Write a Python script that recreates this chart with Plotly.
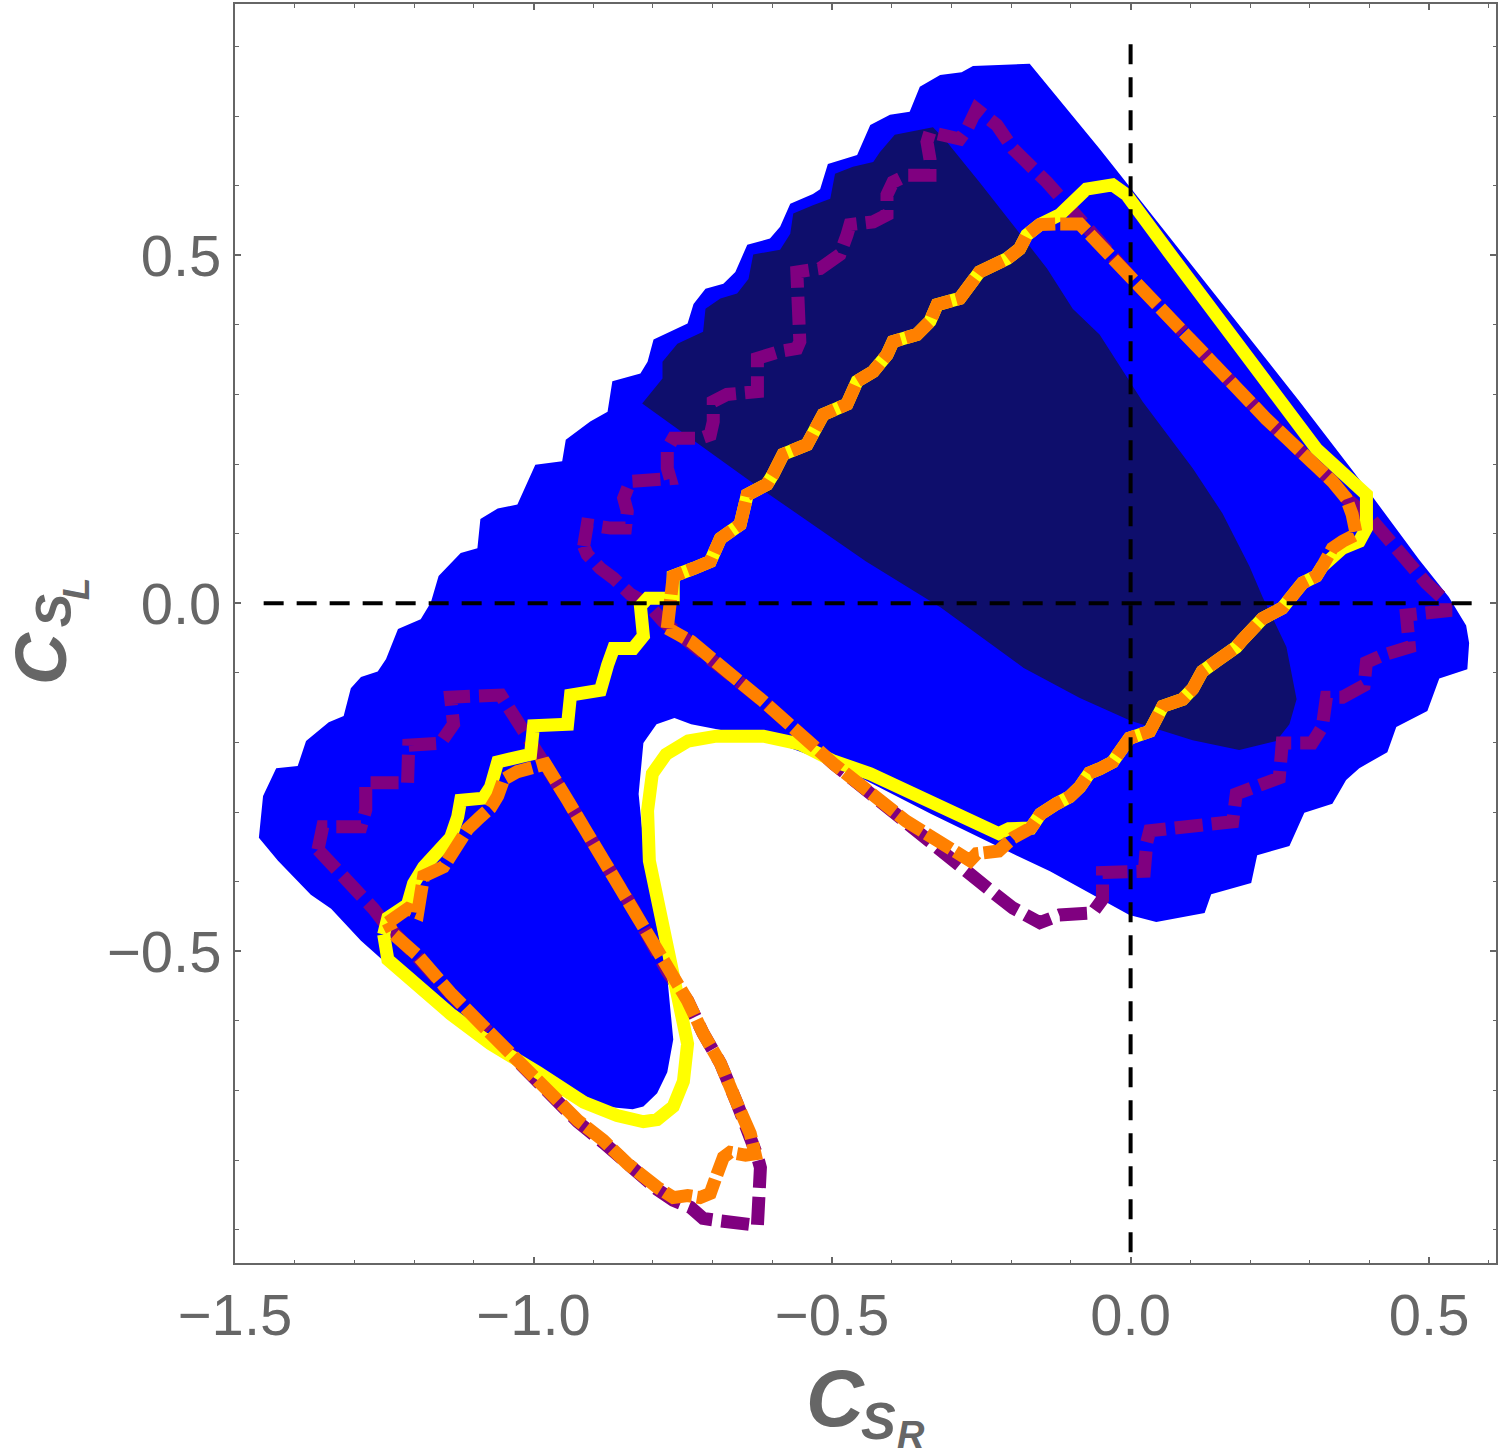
import plotly.graph_objects as go

# ---------------- data (C_SR, C_SL) ----------------
BLUE_X = [-0.169, -0.052, 0.283, 0.400, 0.483, 0.533, 0.562, 0.567, 0.564, 0.517, 0.497, 0.445, 0.430,
          0.383, 0.361, 0.338, 0.291, 0.266, 0.212, 0.202, 0.135, 0.124, 0.043, -0.002, -0.135, -0.197,
          -0.334, -0.497, -0.615, -0.736, -0.764, -0.794, -0.816, -0.824, -0.816, -0.799, -0.776, -0.766,
          -0.776, -0.793, -0.816, -0.834, -0.883, -0.921, -0.993, -1.038, -1.084, -1.127, -1.161, -1.194,
          -1.234, -1.289, -1.339, -1.373, -1.428, -1.460, -1.453, -1.431, -1.395, -1.381, -1.343, -1.318,
          -1.306, -1.289, -1.261, -1.247, -1.227, -1.189, -1.172, -1.159, -1.122, -1.094, -1.089, -1.060,
          -1.027, -1.017, -0.997, -0.952, -0.946, -0.905, -0.876, -0.868, -0.821, -0.809, -0.799, -0.742,
          -0.732, -0.712, -0.682, -0.662, -0.642, -0.604, -0.587, -0.570, -0.532, -0.520, -0.507, -0.458,
          -0.436, -0.403, -0.370, -0.353, -0.319, -0.283, -0.264]
BLUE_Y = [0.775, 0.653, 0.290, 0.159, 0.063, 0.009, -0.032, -0.057, -0.095, -0.108, -0.155, -0.178, -0.214,
          -0.237, -0.254, -0.288, -0.301, -0.349, -0.362, -0.402, -0.418, -0.445, -0.458, -0.448, -0.385, -0.360,
          -0.303, -0.231, -0.194, -0.174, -0.165, -0.174, -0.201, -0.274, -0.343, -0.439, -0.537, -0.627,
          -0.674, -0.704, -0.723, -0.727, -0.723, -0.704, -0.669, -0.641, -0.614, -0.587, -0.567, -0.548,
          -0.527, -0.485, -0.439, -0.419, -0.370, -0.337, -0.277, -0.237, -0.234, -0.198, -0.171, -0.162,
          -0.122, -0.106, -0.098, -0.080, -0.037, -0.023, 0.001, 0.039, 0.072, 0.079, 0.121, 0.136,
          0.142, 0.161, 0.199, 0.204, 0.235, 0.261, 0.275, 0.319, 0.330, 0.347, 0.379, 0.402,
          0.430, 0.452, 0.459, 0.476, 0.515, 0.524, 0.541, 0.574, 0.588, 0.595, 0.631, 0.644,
          0.687, 0.702, 0.706, 0.742, 0.759, 0.763, 0.772]

DARK_X = [-0.818, -0.784, -0.784, -0.759, -0.716, -0.712, -0.687, -0.659, -0.640, -0.632, -0.587, -0.570,
          -0.565, -0.532, -0.503, -0.495, -0.465, -0.431, -0.420, -0.395, -0.331, -0.308, -0.253, -0.197,
          -0.140, -0.097, -0.052, 0.020, 0.060, 0.104, 0.154, 0.199, 0.221, 0.261, 0.278, 0.266, 0.244,
          0.182, 0.104, 0.000, -0.085, -0.179, -0.318, -0.443, -0.620]
DARK_Y = [0.287, 0.323, 0.347, 0.373, 0.390, 0.423, 0.438, 0.445, 0.466, 0.501, 0.508, 0.531,
          0.560, 0.572, 0.581, 0.617, 0.627, 0.634, 0.648, 0.673, 0.684, 0.663, 0.605, 0.544,
          0.481, 0.423, 0.386, 0.290, 0.244, 0.194, 0.129, 0.053, 0.009, -0.063, -0.138, -0.174, -0.198,
          -0.211, -0.197, -0.169, -0.136, -0.093, -0.006, 0.060, 0.165]

PURPLE1_X = [-0.916, -0.910, -0.871, -0.846, -0.843, -0.849, -0.838, -0.809, -0.771, -0.776, -0.776, -0.766,
             -0.721, -0.704, -0.699, -0.699, -0.676, -0.625, -0.625, -0.587, -0.559, -0.554, -0.554, -0.559,
             -0.520, -0.498, -0.487, -0.475, -0.470, -0.431, -0.408, -0.408, -0.398, -0.375, -0.336, -0.336,
             -0.341, -0.336, -0.286, -0.274, -0.258, -0.224, -0.197, -0.140, -0.085, 0.003, 0.115, 0.227,
             0.338, 0.361, 0.405, 0.450, 0.495, 0.528, 0.528, 0.462, 0.467, 0.421, 0.395, 0.391, 0.355,
             0.328, 0.321, 0.304, 0.254, 0.249, 0.199, 0.177, 0.171, 0.087, 0.032, 0.027, 0.023, -0.047,
             -0.047, -0.064, -0.119, -0.152, -0.197, -0.227, -0.281, -0.376, -0.497, -0.615, -0.736, -0.783,
             -0.809, -0.838, -0.866, -0.888, -0.910, -0.916]
PURPLE1_Y = [0.082, 0.113, 0.108, 0.108, 0.132, 0.151, 0.175, 0.175, 0.179, 0.194, 0.222, 0.237,
             0.237, 0.242, 0.261, 0.290, 0.300, 0.304, 0.352, 0.362, 0.366, 0.376, 0.448, 0.476,
             0.481, 0.491, 0.501, 0.529, 0.544, 0.548, 0.558, 0.587, 0.605, 0.615, 0.615, 0.638,
             0.663, 0.677, 0.667, 0.681, 0.710, 0.687, 0.653, 0.605, 0.552, 0.466, 0.366, 0.265,
             0.175, 0.151, 0.119, 0.073, 0.029, 0.003, -0.011, -0.017, -0.063, -0.075, -0.085, -0.118, -0.135,
             -0.135, -0.178, -0.201, -0.201, -0.251, -0.264, -0.274, -0.314, -0.324, -0.327, -0.344, -0.385, -0.387,
             -0.425, -0.445, -0.448, -0.459, -0.438, -0.418, -0.380, -0.313, -0.231, -0.141, -0.055, -0.026,
             -0.001, 0.013, 0.036, 0.050, 0.070, 0.082]

PURPLE2_X = [-1.361, -1.353, -1.289, -1.281, -1.281, -1.211, -1.209, -1.156, -1.134, -1.139, -1.055, -1.027,
             -1.010, -0.983, -0.943, -0.888, -0.833, -0.776, -0.742, -0.716, -0.687, -0.659, -0.637, -0.625,
             -0.620, -0.625, -0.625, -0.692, -0.716, -0.737, -0.766, -0.793, -0.843, -0.883, -0.926, -0.955,
             -0.993, -1.038, -1.084, -1.139, -1.194, -1.234, -1.251, -1.268, -1.306, -1.344, -1.361]
PURPLE2_Y = [-0.354, -0.321, -0.321, -0.297, -0.258, -0.258, -0.204, -0.201, -0.174, -0.135, -0.132, -0.168,
             -0.198, -0.228, -0.283, -0.362, -0.439, -0.529, -0.571, -0.618, -0.661, -0.719, -0.762, -0.795,
             -0.811, -0.854, -0.894, -0.887, -0.884, -0.868, -0.858, -0.842, -0.808, -0.775, -0.745, -0.720,
             -0.690, -0.653, -0.611, -0.561, -0.509, -0.476, -0.458, -0.439, -0.405, -0.373, -0.354]

YELLOW_X = [-1.251, -1.244, -1.211, -1.201, -1.184, -1.161, -1.139, -1.127, -1.122, -1.084, -1.072, -1.060,
            -1.017, -1.005, -1.000, -0.943, -0.938, -0.888, -0.876, -0.866, -0.833, -0.816, -0.821, -0.809,
            -0.766, -0.766, -0.732, -0.704, -0.687, -0.654, -0.642, -0.609, -0.599, -0.582, -0.542, -0.525,
            -0.515, -0.475, -0.465, -0.458, -0.431, -0.408, -0.398, -0.358, -0.336, -0.324, -0.286, -0.269,
            -0.253, -0.207, -0.186, -0.174, -0.152, -0.119, -0.097, -0.074, -0.030, -0.007, 0.060, 0.144,
            0.227, 0.311, 0.395, 0.395, 0.383, 0.355, 0.321, 0.311, 0.288, 0.266, 0.254, 0.232, 0.221,
            0.187, 0.177, 0.144, 0.120, 0.104, 0.087, 0.054, 0.043, 0.032, -0.002, -0.013, -0.030, -0.052,
            -0.069, -0.085, -0.102, -0.124, -0.151, -0.167, -0.204, -0.221, -0.318, -0.436, -0.497, -0.555,
            -0.615, -0.694, -0.741, -0.778, -0.801, -0.809, -0.806, -0.793, -0.783, -0.771, -0.754, -0.742,
            -0.749, -0.766, -0.793, -0.816, -0.860, -0.916, -0.993, -1.072, -1.139, -1.222, -1.244, -1.251]
YELLOW_Y = [-0.476, -0.452, -0.433, -0.403, -0.379, -0.354, -0.337, -0.307, -0.283, -0.280, -0.264, -0.228,
            -0.222, -0.217, -0.176, -0.174, -0.132, -0.125, -0.089, -0.065, -0.065, -0.047, -0.004, 0.007,
            0.007, 0.039, 0.050, 0.060, 0.093, 0.113, 0.156, 0.171, 0.185, 0.214, 0.228, 0.257,
            0.271, 0.286, 0.304, 0.319, 0.333, 0.357, 0.376, 0.386, 0.405, 0.429, 0.438, 0.458,
            0.476, 0.495, 0.509, 0.529, 0.544, 0.558, 0.577, 0.595, 0.601, 0.587, 0.509, 0.415,
            0.323, 0.222, 0.156, 0.108, 0.089, 0.079, 0.053, 0.039, 0.029, 0.009, -0.007, -0.017, -0.022,
            -0.053, -0.063, -0.083, -0.098, -0.123, -0.138, -0.148, -0.164, -0.184, -0.194, -0.208, -0.228, -0.238,
            -0.244, -0.264, -0.278, -0.288, -0.303, -0.323, -0.324, -0.331, -0.294, -0.245, -0.227, -0.202,
            -0.191, -0.191, -0.198, -0.217, -0.245, -0.298, -0.370, -0.422, -0.466, -0.512, -0.572, -0.633,
            -0.687, -0.723, -0.742, -0.745, -0.736, -0.717, -0.674, -0.633, -0.590, -0.529, -0.512, -0.476]

ORANGE1_X = [-0.776, -0.771, -0.766, -0.732, -0.704, -0.687, -0.654, -0.642, -0.609, -0.599, -0.582, -0.542,
             -0.525, -0.515, -0.475, -0.465, -0.458, -0.431, -0.408, -0.398, -0.358, -0.336, -0.324, -0.286,
             -0.269, -0.253, -0.207, -0.186, -0.174, -0.152, -0.119, -0.097, -0.085, 0.003, 0.115, 0.227,
             0.338, 0.361, 0.371, 0.378, 0.355, 0.338, 0.321, 0.311, 0.288, 0.266, 0.254, 0.232, 0.221,
             0.187, 0.177, 0.144, 0.120, 0.104, 0.087, 0.054, 0.043, 0.032, -0.002, -0.013, -0.030, -0.052,
             -0.069, -0.085, -0.102, -0.124, -0.151, -0.167, -0.197, -0.221, -0.258, -0.269, -0.376, -0.497,
             -0.615, -0.736, -0.764, -0.776]
ORANGE1_Y = [-0.036, 0.003, 0.039, 0.050, 0.060, 0.093, 0.113, 0.156, 0.171, 0.185, 0.214, 0.228,
             0.257, 0.271, 0.286, 0.304, 0.319, 0.333, 0.357, 0.376, 0.386, 0.405, 0.429, 0.438,
             0.458, 0.476, 0.495, 0.509, 0.529, 0.544, 0.545, 0.548, 0.545, 0.466, 0.366, 0.265,
             0.175, 0.151, 0.128, 0.099, 0.089, 0.079, 0.053, 0.039, 0.029, 0.009, -0.007, -0.017, -0.022,
             -0.053, -0.063, -0.083, -0.098, -0.123, -0.138, -0.148, -0.164, -0.184, -0.194, -0.208, -0.228, -0.238,
             -0.244, -0.264, -0.278, -0.288, -0.303, -0.323, -0.337, -0.356, -0.360, -0.370, -0.313, -0.231,
             -0.141, -0.055, -0.040, -0.036]

ORANGE2_X = [-1.244, -1.211, -1.194, -1.189, -1.184, -1.151, -1.139, -1.127, -1.110, -1.089, -1.072, -1.060,
             -1.050, -1.027, -0.993, -0.980, -0.943, -0.888, -0.833, -0.776, -0.742, -0.716, -0.687, -0.659,
             -0.637, -0.629, -0.645, -0.671, -0.682, -0.692, -0.704, -0.721, -0.742, -0.766, -0.793, -0.843,
             -0.883, -0.926, -0.955, -0.993, -1.038, -1.084, -1.139, -1.194, -1.234, -1.244]
ORANGE2_Y = [-0.459, -0.439, -0.445, -0.415, -0.392, -0.379, -0.362, -0.343, -0.324, -0.307, -0.294, -0.277,
             -0.253, -0.242, -0.234, -0.231, -0.283, -0.362, -0.439, -0.529, -0.571, -0.618, -0.661, -0.719,
             -0.762, -0.791, -0.793, -0.789, -0.796, -0.819, -0.848, -0.854, -0.851, -0.854, -0.839, -0.805,
             -0.772, -0.743, -0.719, -0.687, -0.651, -0.608, -0.560, -0.506, -0.476, -0.459]

HLINE_X = [-1.452, 0.590]
HLINE_Y = [0.0, 0.0]
VLINE_X = [0.0, 0.0]
VLINE_Y = [0.803, -0.95]

X_TICKS = [-1.5, -1.0, -0.5, 0.0, 0.5]
X_TICK_LABELS = ["\u22121.5", "\u22121.0", "\u22120.5", "0.0", "0.5"]
Y_TICKS = [-0.5, 0.0, 0.5]
Y_TICK_LABELS = ["\u22120.5", "0.0", "0.5"]
X_RANGE = [-1.5, 0.612]
Y_RANGE = [-0.948, 0.861]

# ---------------- figure ----------------
fig = go.Figure()


def fill(x, y, color):
    fig.add_trace(go.Scatter(x=x, y=y, mode="lines", fill="toself", fillcolor=color,
                             line=dict(width=0, color=color), hoverinfo="skip", showlegend=False))


def line(x, y, color, width, dash):
    fig.add_trace(go.Scatter(x=x, y=y, mode="lines",
                             line=dict(width=width, color=color, dash=dash),
                             hoverinfo="skip", showlegend=False))


fill(BLUE_X, BLUE_Y, "#0000FF")
fill(DARK_X, DARK_Y, "#0E0E6C")
line(PURPLE1_X, PURPLE1_Y, "#800080", 13, "28px,9px")
line(PURPLE2_X, PURPLE2_Y, "#800080", 13, "28px,9px")
line(YELLOW_X, YELLOW_Y, "#FFFF00", 13, "solid")
line(ORANGE1_X, ORANGE1_Y, "#FF8000", 13, "29px,5px")
line(ORANGE2_X, ORANGE2_Y, "#FF8000", 13, "29px,5px")
line(HLINE_X, HLINE_Y, "#000000", 4, "20px,13px")
line(VLINE_X, VLINE_Y, "#000000", 4, "20px,13px")

GREY = "#666666"
axis_common = dict(showgrid=False, zeroline=False, showline=True, mirror="allticks",
                   linecolor=GREY, linewidth=2, ticks="inside", ticklen=6, tickwidth=1.5,
                   tickcolor=GREY, tickfont=dict(family="Liberation Sans", size=58, color=GREY),
                   minor=dict(dtick=0.1, tick0=0, ticks="inside", ticklen=3.5, tickwidth=1.2,
                              tickcolor=GREY, showgrid=False))

fig.update_xaxes(range=X_RANGE, tickmode="array", tickvals=X_TICKS, ticktext=X_TICK_LABELS,
                 ticklabelstandoff=0, **axis_common)
fig.update_yaxes(range=Y_RANGE, tickmode="array", tickvals=Y_TICKS, ticktext=Y_TICK_LABELS,
                 ticklabelstandoff=0, **axis_common)

LBL = "Liberation Sans"
ann = [
    dict(text="<b><i>C</i></b>", x=0.4762, y=-0.1080, size=80, angle=0),
    dict(text="<b><i>S</i></b>", x=0.5103, y=-0.1253, size=52, angle=0),
    dict(text="<b><i>R</i></b>", x=0.5357, y=-0.1365, size=38, angle=0),
    dict(text="<b><i>C</i></b>", x=-0.1538, y=0.4798, size=72, angle=-90),
    dict(text="<b><i>S</i></b>", x=-0.1435, y=0.5178, size=50, angle=-90),
    dict(text="<b><i>L</i></b>", x=-0.1260, y=0.5353, size=37, angle=-90),
]
for a in ann:
    fig.add_annotation(text=a["text"], x=a["x"], y=a["y"], xref="paper", yref="paper",
                       xanchor="center", yanchor="middle", showarrow=False, textangle=a["angle"],
                       font=dict(family=LBL, size=a["size"], color=GREY))

fig.update_layout(width=1500, height=1455, margin=dict(l=235, r=3, t=2, b=192),
                  plot_bgcolor="white", paper_bgcolor="white", showlegend=False)

fig.write_html("out.html", config={"displayModeBar": False},
               post_script="document.body.style.margin='0';")
